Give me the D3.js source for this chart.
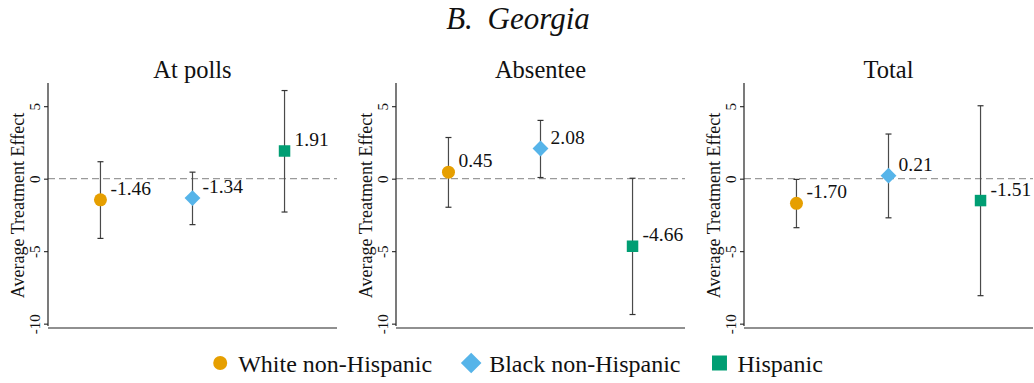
<!DOCTYPE html>
<html>
<head>
<meta charset="utf-8">
<script src="https://cdn.jsdelivr.net/npm/d3@7"></script>
<style>
  html, body { margin: 0; padding: 0; background: #fff; }
  svg { display: block; }
  text { font-family: "Liberation Serif", "Times New Roman", serif; fill: #111; }
</style>
</head>
<body>
<svg id="chart" width="1034" height="383"></svg>
<script>
// Average treatment effects by voting mode and group, Georgia
const panels = ["At polls", "Absentee", "Total"];
const groups = ["White non-Hispanic", "Black non-Hispanic", "Hispanic"];
const estimates = [
  [-1.46, -1.34, 1.91],
  [0.45, 2.08, -4.66],
  [-1.70, 0.21, -1.51]
];
const lower = [
  [-4.12, -3.17, -2.30],
  [-1.97, 0.08, -9.37],
  [-3.38, -2.70, -8.07]
];
const upper = [
  [1.17, 0.45, 6.08],
  [2.84, 4.02, 0.03],
  [-0.05, 3.08, 5.03]
];
const yTicks = [5, 0, -5, -10];
const groupColors = ["#E69F00", "#56B4E9", "#009E73"];

// plain hyphen for negative numbers
const locale = d3.formatLocale({
  decimal: ".", thousands: ",", grouping: [3], currency: ["", ""], minus: "-"
});
const fmtValue = locale.format(".2f");
const fmtTick = locale.format("d");

const svg = d3.select("#chart");

const panelW = 289, panelStep = 348, firstLeft = 48;
const plotTop = 83, plotBottom = 328;

const y = d3.scaleLinear().domain([-10.3, 6.6]).range([plotBottom, plotTop]);
const x = d3.scaleLinear().domain([0.43, 3.57]).range([0, panelW]);

const symbolGens = [
  d3.symbol().type(d3.symbolCircle).size(Math.PI * 6.5 * 6.5),
  d3.symbol().type(d3.symbolDiamond2).size(160),
  d3.symbol().type(d3.symbolSquare).size(11.5 * 11.5)
];

// Figure title
svg.append("text")
  .attr("x", 518).attr("y", 29)
  .attr("text-anchor", "middle")
  .style("font-style", "italic")
  .style("font-size", "31px")
  .style("word-spacing", "7px")
  .text("B. Georgia");

panels.forEach((name, p) => {
  const left = firstLeft + p * panelStep;
  const g = svg.append("g").attr("transform", `translate(${left},0)`);

  // panel title
  g.append("text")
    .attr("x", panelW / 2).attr("y", 78)
    .attr("text-anchor", "middle")
    .style("font-size", "24.5px")
    .text(name);

  // zero reference line
  g.append("line")
    .attr("x1", 0).attr("x2", panelW)
    .attr("y1", y(0)).attr("y2", y(0))
    .attr("stroke", "#9a9a9a").attr("stroke-width", 1.2)
    .attr("stroke-dasharray", "7,4");

  // y axis
  const yAxis = d3.axisLeft(y).tickValues(yTicks).tickSize(4).tickFormat(fmtTick);
  const ya = g.append("g").call(yAxis);
  ya.select(".domain").remove();
  ya.selectAll(".tick line").attr("stroke", "#222").attr("stroke-width", 1.1);
  ya.selectAll(".tick text")
    .attr("x", null).attr("dy", null)
    .attr("transform", "translate(-8,0) rotate(-90)")
    .attr("text-anchor", "middle")
    .style("font-family", "Liberation Serif, serif")
    .style("font-size", "15px")
    .attr("fill", "#111");
  g.append("line")
    .attr("x1", 0).attr("x2", 0)
    .attr("y1", plotTop).attr("y2", plotBottom - 2)
    .attr("stroke", "#222").attr("stroke-width", 1.2);

  // x axis baseline
  g.append("line")
    .attr("x1", 0).attr("x2", panelW)
    .attr("y1", plotBottom).attr("y2", plotBottom)
    .attr("stroke", "#222").attr("stroke-width", 1.2);

  // y axis title
  g.append("text")
    .attr("transform", `translate(-24,${(plotTop + plotBottom) / 2}) rotate(-90)`)
    .attr("text-anchor", "middle")
    .style("font-size", "18px")
    .text("Average Treatment Effect");

  groups.forEach((grp, k) => {
    const cx = x(k + 1);
    const est = estimates[p][k], lo = lower[p][k], hi = upper[p][k];
    // confidence interval
    g.append("line")
      .attr("x1", cx).attr("x2", cx)
      .attr("y1", y(hi)).attr("y2", y(lo))
      .attr("stroke", "#4a4a4a").attr("stroke-width", 1.2);
    [hi, lo].forEach(v => {
      g.append("line")
        .attr("x1", cx - 3).attr("x2", cx + 3)
        .attr("y1", y(v)).attr("y2", y(v))
        .attr("stroke", "#333").attr("stroke-width", 1.2);
    });
    // point estimate
    g.append("path")
      .attr("d", symbolGens[k]())
      .attr("transform", `translate(${cx},${y(est)})`)
      .attr("fill", groupColors[k]);
    // value label
    g.append("text")
      .attr("x", cx + 10).attr("y", y(est) - 5)
      .style("font-size", "19.5px")
      .text(fmtValue(est));
  });
});

// Legend
const legendSymbols = [
  d3.symbol().type(d3.symbolCircle).size(Math.PI * 7 * 7),
  d3.symbol().type(d3.symbolDiamond2).size(270),
  d3.symbol().type(d3.symbolSquare).size(15 * 15)
];
const legend = svg.append("g");
const items = legend.selectAll("g").data(groups).join("g");
items.append("path")
  .attr("d", (d, i) => legendSymbols[i]())
  .attr("fill", (d, i) => groupColors[i]);
items.append("text")
  .attr("x", 18).attr("y", 9)
  .style("font-size", "24px")
  .text(d => d);
let cursor = 0;
items.each(function () {
  const item = d3.select(this);
  const w = item.select("text").node().getComputedTextLength();
  item.attr("transform", `translate(${cursor},0)`);
  cursor += 18 + w + 39;
});
const legendWidth = cursor - 39 + 7;
legend.attr("transform", `translate(${518 - legendWidth / 2 + 7},363)`);
</script>
</body>
</html>
